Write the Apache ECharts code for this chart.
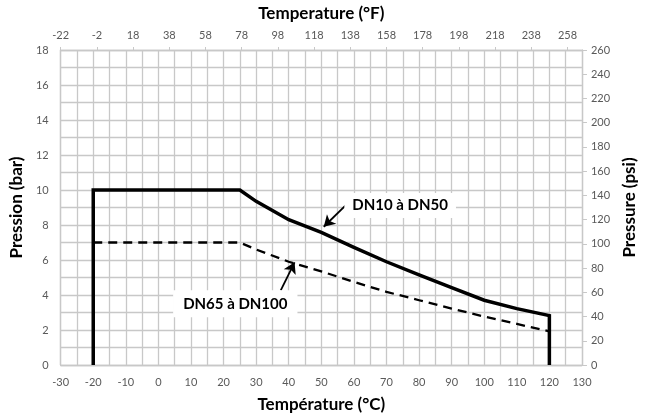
<!DOCTYPE html>
<html>
<head>
<meta charset="utf-8">
<script src="https://cdn.jsdelivr.net/npm/echarts@6/dist/echarts.min.js"></script>
<style>html,body{margin:0;padding:0;background:#fff;}#c{width:646px;height:418px;}</style>
</head>
<body>
<div id="c"></div>
<script>
// Data (temperature °C, pressure bar)
const dn50Temp = [-20, -20, 25, 30, 40, 50, 60, 70, 80, 90, 100, 110, 120, 120];
const dn50Pres = [0, 10, 10, 9.35, 8.3, 7.58, 6.72, 5.9, 5.15, 4.42, 3.7, 3.22, 2.82, 0];
const dn100Temp = [-20, 25, 30, 40, 50, 60, 70, 80, 90, 100, 110, 120];
const dn100Pres = [7, 7, 6.6, 5.9, 5.35, 4.75, 4.18, 3.7, 3.22, 2.77, 2.35, 1.92];
const labelDN50 = 'DN10 à DN50';
const labelDN100 = 'DN65 à DN100';
const labelDN50Pos = [74.2, 9.11];
const labelDN100Pos = [23.6, 3.5];
const arrowDN50 = [[58.8, 9.36], [50.75, 7.9]];
const arrowDN100 = [[37.55, 4.27], [41.8, 5.87]];
const fahrenheitOffset = 22; // top axis shown from -22 °F

const font = 'Lato';
const grey = '#595959';
const gridCol = '#c8c8c8';

const zip = (a, b) => a.map((v, i) => [v, b[i]]);
const titleStyle = {fontFamily: font, fontWeight: 'bold', fontSize: 17, color: '#000'};

const chart = echarts.init(document.getElementById('c'), null, {renderer: 'canvas'});
chart.setOption({
  animation: false,
  textStyle: {fontFamily: font},
  grid: {left: 55, right: 55, top: 50, bottom: 49, containLabel: false, show: false},
  xAxis: [{
    type: 'value', position: 'bottom', min: -30, max: 130, interval: 10,
    name: 'Température (°C)', nameLocation: 'middle', nameGap: 31, nameTextStyle: titleStyle,
    axisLine: {show: true, onZero: false, lineStyle: {color: gridCol, width: 1.3}},
    axisTick: {show: false},
    axisLabel: {color: grey, fontSize: 11, margin: 12, fontFamily: font},
    splitLine: {show: true, lineStyle: {color: gridCol, width: 1.3, type: 'solid'}},
    minorTick: {show: false, splitNumber: 2},
    minorSplitLine: {show: true, lineStyle: {color: gridCol, width: 1.3, type: 'solid'}}
  }, {
    type: 'value', position: 'top', min: 0, max: 288, interval: 20,
    name: 'Temperature (°F)', nameLocation: 'middle', nameGap: 28, nameTextStyle: titleStyle,
    axisLine: {show: true, onZero: false, lineStyle: {color: gridCol, width: 1.3}},
    axisTick: {show: true, inside: false, length: 3, lineStyle: {color: gridCol}},
    axisLabel: {color: grey, fontSize: 11, margin: 9, fontFamily: font, showMaxLabel: false,
      formatter: v => String(v - fahrenheitOffset)},
    splitLine: {show: false}
  }],
  yAxis: [{
    type: 'value', position: 'left', min: 0, max: 18, interval: 2,
    name: 'Pression (bar)', nameLocation: 'middle', nameGap: 30, nameRotate: 90, nameTextStyle: titleStyle,
    axisLine: {show: true, onZero: false, lineStyle: {color: gridCol, width: 1.3}},
    axisTick: {show: false},
    axisLabel: {color: grey, fontSize: 11, margin: 12, fontFamily: font},
    splitLine: {show: true, lineStyle: {color: gridCol, width: 1.3, type: 'solid'}},
    minorTick: {show: false, splitNumber: 2},
    minorSplitLine: {show: true, lineStyle: {color: gridCol, width: 1.3, type: 'solid'}}
  }, {
    type: 'value', position: 'right', min: 0, max: 260, interval: 20,
    name: 'Pressure (psi)', nameLocation: 'middle', nameGap: 34, nameRotate: 90, nameTextStyle: titleStyle,
    axisLine: {show: true, onZero: false, lineStyle: {color: gridCol, width: 1.3}},
    axisTick: {show: true, inside: false, length: 5, lineStyle: {color: gridCol}},
    axisLabel: {color: grey, fontSize: 11, margin: 9, fontFamily: font},
    splitLine: {show: false}
  }],
  series: [{
    type: 'line', name: labelDN50, xAxisIndex: 0, yAxisIndex: 0,
    data: zip(dn50Temp, dn50Pres), symbol: 'none', silent: true, z: 5,
    lineStyle: {color: '#000', width: 3.5, join: 'miter'},
    markLine: {
      silent: true, symbol: ['none', 'arrow'], symbolSize: [10, 11], label: {show: false},
      lineStyle: {color: '#000', width: 1.8, type: 'solid'},
      data: [[{coord: arrowDN50[0]}, {coord: arrowDN50[1]}]]
    },
    markPoint: {
      silent: true, symbol: 'rect', symbolSize: 0,
      label: {show: true, position: 'inside', formatter: labelDN50, color: '#000',
        fontFamily: font, fontWeight: 'bold', fontSize: 15, backgroundColor: '#fff', padding: [5, 8]},
      data: [{coord: labelDN50Pos}]
    }
  }, {
    type: 'line', name: labelDN100, xAxisIndex: 0, yAxisIndex: 0,
    data: zip(dn100Temp, dn100Pres), symbol: 'none', silent: true, z: 4,
    lineStyle: {color: '#000', width: 2.3, type: [9, 6]},
    markLine: {
      silent: true, symbol: ['none', 'arrow'], symbolSize: [10, 11], label: {show: false},
      lineStyle: {color: '#000', width: 1.8, type: 'solid'},
      data: [[{coord: arrowDN100[0]}, {coord: arrowDN100[1]}]]
    },
    markPoint: {
      silent: true, symbol: 'rect', symbolSize: 0,
      label: {show: true, position: 'inside', formatter: labelDN100, color: '#000',
        fontFamily: font, fontWeight: 'bold', fontSize: 15, backgroundColor: '#fff', padding: [6, 10]},
      data: [{coord: labelDN100Pos}]
    }
  }]
});
</script>
</body>
</html>
